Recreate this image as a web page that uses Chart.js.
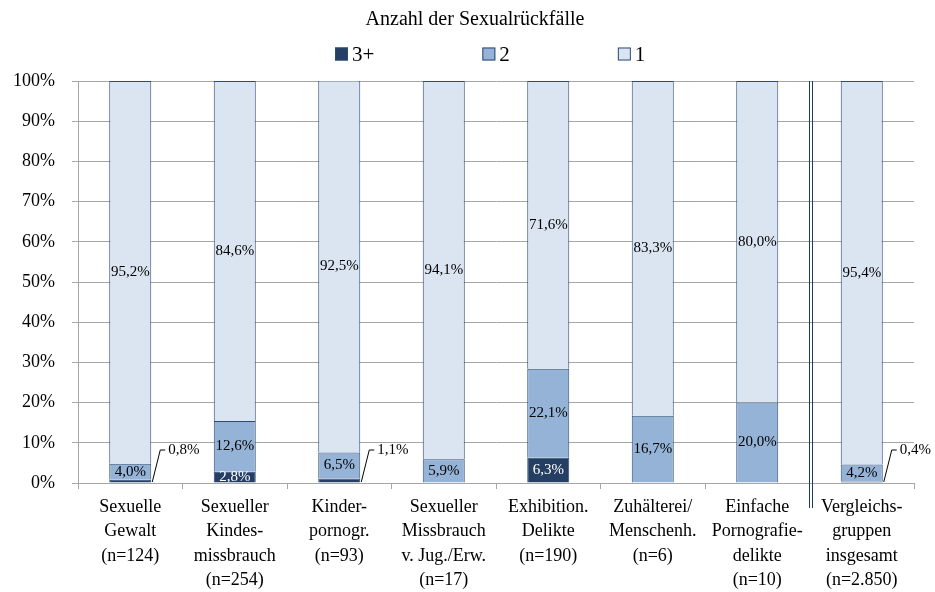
<!DOCTYPE html>
<html lang="de">
<head>
<meta charset="utf-8">
<title>Anzahl der Sexualrückfälle</title>
<script src="https://cdn.jsdelivr.net/npm/chart.js@4"></script>
<style>
  body { margin: 0; background: #fff; }
  #wrap { width: 935px; height: 592px; }
</style>
</head>
<body>
<div id="wrap"><canvas id="chart" width="935" height="592"></canvas></div>
<script>
// Kategorien (mehrzeilige Beschriftung)
const categories = [
  ["Sexuelle", "Gewalt", "(n=124)"],
  ["Sexueller", "Kindes-", "missbrauch", "(n=254)"],
  ["Kinder-", "pornogr.", "(n=93)"],
  ["Sexueller", "Missbrauch", "v. Jug./Erw.", "(n=17)"],
  ["Exhibition.", "Delikte", "(n=190)"],
  ["Zuhälterei/", "Menschenh.", "(n=6)"],
  ["Einfache", "Pornografie-", "delikte", "(n=10)"],
  ["Vergleichs-", "gruppen", "insgesamt", "(n=2.850)"]
];

// Anteile in Prozent
const rueckfall3plus = [0.8, 2.8, 1.1, 0, 6.3, 0, 0, 0.4];
const rueckfall2 = [4.0, 12.6, 6.5, 5.9, 22.1, 16.7, 20.0, 4.2];
const rueckfall1 = [95.2, 84.6, 92.5, 94.1, 71.6, 83.3, 80.0, 95.4];

const yTicks = [0, 10, 20, 30, 40, 50, 60, 70, 80, 90, 100];

const serif = '"Liberation Serif", "DejaVu Serif", serif';
const gridGray = "#a6a6a6";
const edge = "#2c4b74";

Chart.defaults.font.family = serif;
Chart.defaults.color = "#000";

// Zahl im deutschen Format
const fmt = v => v.toFixed(1).replace(".", ",") + "%";

// Datenbeschriftungen (klein: aussen mit Fuehrungslinie)
const barLabels = {
  id: "barLabels",
  afterDatasetsDraw(chart) {
    const ctx = chart.ctx;
    const yScale = chart.scales.y;
    ctx.save();
    ctx.font = "15px " + serif;
    ctx.textBaseline = "middle";
    chart.data.datasets.forEach((ds, di) => {
      const meta = chart.getDatasetMeta(di);
      meta.data.forEach((bar, i) => {
        const v = ds.data[i];
        if (!v) return;
        const txt = fmt(v);
        if (v < 2) {
          const x0 = bar.x + bar.width / 2 + 1;
          const y0 = yScale.getPixelForValue(0) - 1;
          const x1 = x0 + 8, y1 = y0 - 32;
          ctx.strokeStyle = "#000";
          ctx.lineWidth = 1;
          ctx.beginPath();
          ctx.moveTo(x0, y0);
          ctx.lineTo(x1, y1);
          ctx.lineTo(x1 + 5, y1);
          ctx.stroke();
          ctx.fillStyle = "#000";
          ctx.textAlign = "left";
          ctx.fillText(txt, x1 + 8, y1);
        } else {
          ctx.fillStyle = di === 0 ? "#fff" : "#000";
          ctx.textAlign = "center";
          ctx.fillText(txt, bar.x, (bar.y + bar.base) / 2);
        }
      });
    });
    ctx.restore();
  }
};

// Doppelte Trennlinie vor der Vergleichsgruppe
const separator = {
  id: "separator",
  afterDatasetsDraw(chart) {
    const ctx = chart.ctx;
    const x = chart.scales.x;
    const n = categories.length;
    const xm = (x.getPixelForValue(n - 2) + x.getPixelForValue(n - 1)) / 2;
    ctx.save();
    ctx.strokeStyle = "#1f3a60";
    ctx.lineWidth = 1;
    [xm - 1, xm + 2].forEach(px => {
      ctx.beginPath();
      ctx.moveTo(Math.round(px) + 0.5, chart.chartArea.top);
      ctx.lineTo(Math.round(px) + 0.5, chart.chartArea.bottom + 25);
      ctx.stroke();
    });
    ctx.restore();
  }
};

// Legende wie im Original mit grossen Abstaenden
const wideLegend = {
  id: "wideLegend",
  afterDraw(chart) {
    const ctx = chart.ctx;
    const box = 13, gap = 4, spacing = 108, yMid = 54;
    ctx.save();
    ctx.font = "21px " + serif;
    ctx.textBaseline = "middle";
    const items = chart.data.datasets.map(ds => ({
      text: ds.label, fill: ds.backgroundColor, stroke: ds.borderColor,
      w: box + gap + ctx.measureText(ds.label).width
    }));
    const total = items.reduce((s, it) => s + it.w, 0) + spacing * (items.length - 1);
    let x = Math.round(chart.width / 2 - total / 2 + 23);
    items.forEach(it => {
      ctx.fillStyle = it.fill;
      ctx.fillRect(x, yMid - box / 2, box, box);
      ctx.strokeStyle = it.stroke;
      ctx.lineWidth = 1;
      ctx.strokeRect(x + 0.5, yMid - box / 2 + 0.5, box - 1, box - 1);
      ctx.fillStyle = "#000";
      ctx.textAlign = "left";
      ctx.fillText(it.text, x + box + gap, yMid + 1);
      x += it.w + spacing;
    });
    ctx.restore();
  }
};

// y-Beschriftung nicht am Layout-Rand abschneiden
const unclipY = {
  id: "unclipY",
  afterLayout(chart) { chart.scales.y.left = 0; }
};

new Chart(document.getElementById("chart"), {
  type: "bar",
  data: {
    labels: categories,
    datasets: [
      { label: "3+", data: rueckfall3plus, backgroundColor: "#243f63", borderColor: edge, borderWidth: 1 },
      { label: "2", data: rueckfall2, backgroundColor: "#95b3d7", borderColor: edge, borderWidth: 1 },
      { label: "1", data: rueckfall1, backgroundColor: "#dbe5f1", borderColor: edge, borderWidth: 1 }
    ]
  },
  options: {
    responsive: false,
    animation: false,
    layout: { padding: { left: 36, right: 21, top: 0, bottom: 0 } },
    datasets: { bar: { barPercentage: 0.402, categoryPercentage: 1 } },
    plugins: {
      legend: { display: false },
      tooltip: { enabled: false },
      title: {
        display: true,
        text: "Anzahl der Sexualrückfälle",
        color: "#000",
        font: { size: 20, weight: "normal", family: serif, lineHeight: 1.2 },
        padding: { top: 8, bottom: 49 }
      }
    },
    scales: {
      x: {
        stacked: true,
        grid: { offset: true, drawOnChartArea: false, color: gridGray, tickLength: 6 },
        border: { color: gridGray },
        ticks: { maxRotation: 0, autoSkip: false, padding: 6, font: { size: 18, lineHeight: 1.36 } },
        afterFit(scale) { scale.height = 109; }
      },
      y: {
        stacked: true,
        min: 0,
        max: 100,
        afterBuildTicks(scale) { scale.ticks = yTicks.map(v => ({ value: v })); },
        grid: { color: gridGray, tickLength: 6 },
        border: { display: true, color: gridGray },
        ticks: { padding: 17, font: { size: 18 }, callback: v => v + "%" },
        afterFit(scale) { scale.width = 42; }
      }
    }
  },
  plugins: [barLabels, separator, wideLegend, unclipY]
});
</script>
</body>
</html>
